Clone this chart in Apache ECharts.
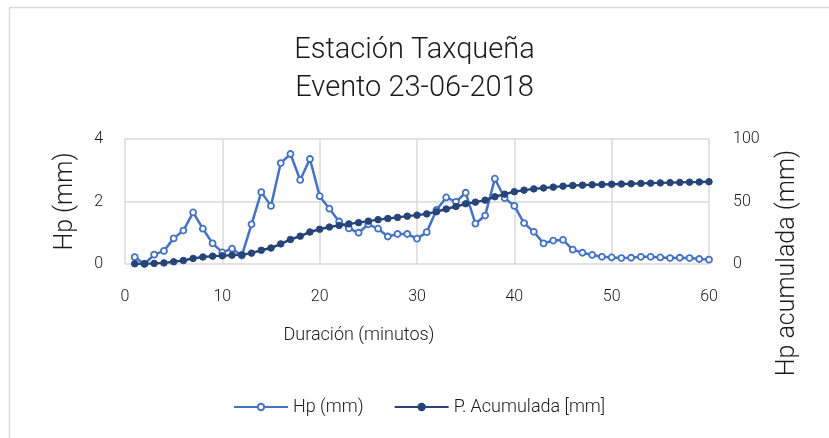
<!DOCTYPE html>
<html><head><meta charset="utf-8">
<script src="https://cdn.jsdelivr.net/npm/echarts@6/dist/echarts.min.js"></script>
<style>html,body{margin:0;padding:0;background:#fff}#c{width:829px;height:438px}</style>
</head><body><div id="c"></div>
<script>
const minutes = [1,2,3,4,5,6,7,8,9,10,11,12,13,14,15,16,17,18,19,20,21,22,23,24,25,26,27,28,29,30,31,32,33,34,35,36,37,38,39,40,41,42,43,44,45,46,47,48,49,50,51,52,53,54,55,56,57,58,59,60];
const hp = [0.22,0.00,0.30,0.42,0.82,1.07,1.65,1.13,0.66,0.37,0.49,0.27,1.27,2.30,1.86,3.23,3.52,2.69,3.36,2.17,1.77,1.36,1.14,1.00,1.27,1.13,0.88,0.96,0.96,0.81,1.02,1.73,2.13,1.99,2.28,1.29,1.55,2.73,2.11,1.86,1.31,1.03,0.66,0.75,0.77,0.46,0.36,0.29,0.23,0.21,0.19,0.20,0.23,0.23,0.21,0.19,0.20,0.19,0.16,0.14];
const acumulada = [0.2,0.2,0.5,0.9,1.8,2.8,4.5,5.6,6.3,6.6,7.1,7.4,8.7,11.0,12.8,16.1,19.6,22.3,25.6,27.8,29.6,30.9,32.1,33.1,34.3,35.5,36.4,37.3,38.3,39.1,40.1,41.8,44.0,46.0,48.2,49.5,51.1,53.8,55.9,57.8,59.1,60.1,60.8,61.5,62.3,62.8,63.1,63.4,63.6,63.8,64.0,64.2,64.5,64.7,64.9,65.1,65.3,65.5,65.6,65.8];
const titleLines = ['Estación Taxqueña', 'Evento 23-06-2018'];
const seriesNames = ['Hp (mm)', 'P. Acumulada [mm]'];
const xName = 'Duración (minutos)';
const yLeftName = 'Hp (mm)';
const yRightName = 'Hp acumulada (mm)';

const FONT = 'Roboto';
const TXT = '#1a1a1a';
const GRID = '#d9d9d9';
const C1 = '#4472C4';
const C2 = '#264478';

const chart = echarts.init(document.getElementById('c'));
chart.setOption({
  animation: false,
  textStyle: {fontFamily: FONT, color: TXT},
  title: {
    text: titleLines.join('\n'),
    left: 'center', top: 27,
    textStyle: {fontFamily: FONT, fontWeight: 300, fontSize: 29, lineHeight: 38, color: TXT}
  },
  grid: {left: 125, right: 120, top: 139, bottom: 174},
  legend: {
    left: 228, top: 393, itemWidth: 54, itemHeight: 8, itemGap: 30,
    textStyle: {fontFamily: FONT, fontWeight: 300, fontSize: 18, color: TXT},
    data: seriesNames
  },
  xAxis: {
    type: 'value', min: 0, max: 60, interval: 10,
    axisLine: {show: false}, axisTick: {show: false},
    axisLabel: {fontFamily: FONT, fontWeight: 300, fontSize: 16, color: TXT, margin: 25},
    splitLine: {show: true, lineStyle: {color: GRID, width: 1.5}}
  },
  yAxis: [
    {type: 'value', min: 0, max: 4, interval: 2, position: 'left',
     name: yLeftName, nameLocation: 'middle', nameGap: 47, nameRotate: 90,
     nameTextStyle: {fontFamily: FONT, fontWeight: 300, fontSize: 25, color: TXT},
     axisLine: {show: false}, axisTick: {show: false},
     axisLabel: {fontFamily: FONT, fontWeight: 300, fontSize: 16, color: TXT, margin: 22},
     splitLine: {show: true, lineStyle: {color: GRID, width: 1.5}}},
    {type: 'value', min: 0, max: 100, interval: 50, position: 'right',
     axisLine: {show: false}, axisTick: {show: false},
     axisLabel: {fontFamily: FONT, fontWeight: 300, fontSize: 16, color: TXT, margin: 24},
     splitLine: {show: false}}
  ],
  graphic: [
    {type: 'line', shape: {x1: 9.5, y1: 7.5, x2: 829, y2: 7.5}, style: {stroke: GRID, lineWidth: 1.5}, silent: true},
    {type: 'line', shape: {x1: 9.5, y1: 7.5, x2: 9.5, y2: 438}, style: {stroke: GRID, lineWidth: 1.5}, silent: true},
    {type: 'text', x: 359, y: 335,
     style: {text: xName, font: '300 18px ' + FONT, fill: TXT, align: 'center', verticalAlign: 'middle'}, silent: true},
    {type: 'text', x: 788, y: 263, rotation: Math.PI / 2,
     style: {text: yRightName, font: '300 25px ' + FONT, fill: TXT, align: 'center', verticalAlign: 'middle'}, silent: true}
  ],
  series: [
    {name: seriesNames[0], type: 'line', yAxisIndex: 0,
     data: minutes.map((m, i) => [m, hp[i]]),
     symbol: 'circle', symbolSize: 6,
     lineStyle: {color: C1, width: 2.5},
     itemStyle: {color: '#ffffff', borderColor: C1, borderWidth: 1.8}},
    {name: seriesNames[1], type: 'line', yAxisIndex: 1,
     data: minutes.map((m, i) => [m, acumulada[i]]),
     symbol: 'circle', symbolSize: 6.5,
     lineStyle: {color: C2, width: 2.5},
     itemStyle: {color: C2, borderColor: C2, borderWidth: 1}}
  ]
});
</script></body></html>
